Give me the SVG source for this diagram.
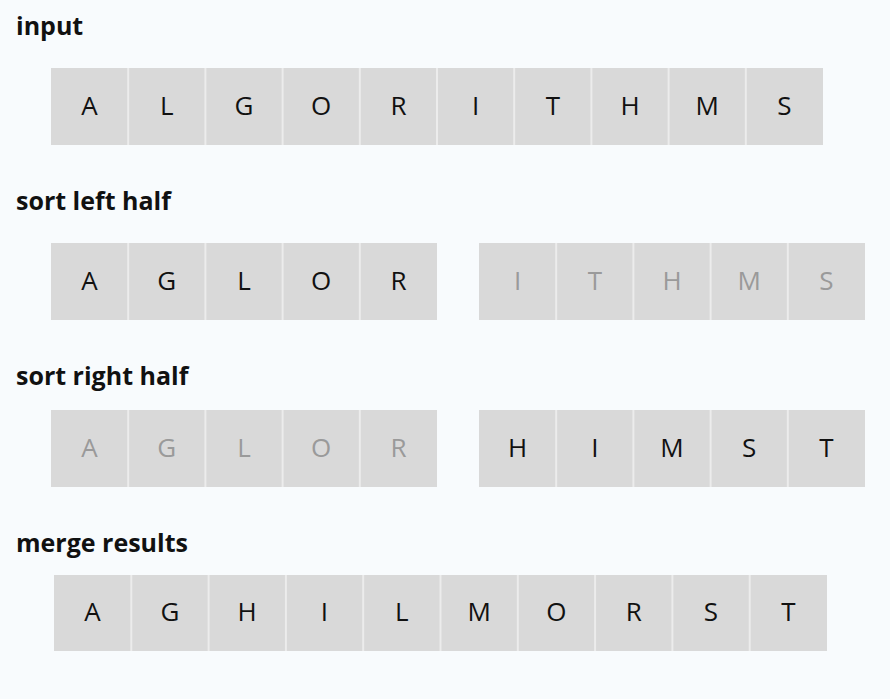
<svg xmlns="http://www.w3.org/2000/svg" width="890" height="699" viewBox="0 0 890 699">
<style>
.bg{fill:#f8fbfd}
.row{fill:#d9d9d9}
.sep{stroke:#ececec;stroke-width:2}
.t{font-family:"Open Sans","Liberation Sans",sans-serif;font-size:26px;text-anchor:middle;fill:#111}
.g{fill:#9a9a9a}
.h{font-family:"Open Sans","Liberation Sans",sans-serif;font-size:25px;font-weight:bold;fill:#111}
</style>
<rect class="bg" x="0" y="0" width="890" height="699"/>
<text class="h" x="16" y="35">input</text>
<text class="h" x="16" y="210">sort left half</text>
<text class="h" x="16" y="385">sort right half</text>
<text class="h" x="16" y="552">merge results</text>
<g id="row1">
<rect class="row" x="51" y="68" width="772" height="77"/>
<path class="sep" d="M128.2 68V145M205.4 68V145M282.6 68V145M359.8 68V145M437 68V145M514.2 68V145M591.4 68V145M668.6 68V145M745.8 68V145"/>
<text class="t" x="89.6" y="115">A</text>
<text class="t" x="166.8" y="115">L</text>
<text class="t" x="244" y="115">G</text>
<text class="t" x="321.2" y="115">O</text>
<text class="t" x="398.4" y="115">R</text>
<text class="t" x="475.6" y="115">I</text>
<text class="t" x="552.8" y="115">T</text>
<text class="t" x="630" y="115">H</text>
<text class="t" x="707.2" y="115">M</text>
<text class="t" x="784.4" y="115">S</text>
</g>
<g id="row2">
<rect class="row" x="51" y="243" width="386" height="77"/>
<rect class="row" x="479" y="243" width="386" height="77"/>
<path class="sep" d="M128.2 243V320M205.4 243V320M282.6 243V320M359.8 243V320M556.2 243V320M633.4 243V320M710.6 243V320M787.8 243V320"/>
<text class="t" x="89.6" y="290">A</text>
<text class="t" x="166.8" y="290">G</text>
<text class="t" x="244" y="290">L</text>
<text class="t" x="321.2" y="290">O</text>
<text class="t" x="398.4" y="290">R</text>
<text class="t g" x="517.6" y="290">I</text>
<text class="t g" x="594.8" y="290">T</text>
<text class="t g" x="672" y="290">H</text>
<text class="t g" x="749.2" y="290">M</text>
<text class="t g" x="826.4" y="290">S</text>
</g>
<g id="row3">
<rect class="row" x="51" y="410" width="386" height="77"/>
<rect class="row" x="479" y="410" width="386" height="77"/>
<path class="sep" d="M128.2 410V487M205.4 410V487M282.6 410V487M359.8 410V487M556.2 410V487M633.4 410V487M710.6 410V487M787.8 410V487"/>
<text class="t g" x="89.6" y="457">A</text>
<text class="t g" x="166.8" y="457">G</text>
<text class="t g" x="244" y="457">L</text>
<text class="t g" x="321.2" y="457">O</text>
<text class="t g" x="398.4" y="457">R</text>
<text class="t" x="517.6" y="457">H</text>
<text class="t" x="594.8" y="457">I</text>
<text class="t" x="672" y="457">M</text>
<text class="t" x="749.2" y="457">S</text>
<text class="t" x="826.4" y="457">T</text>
</g>
<g id="row4">
<rect class="row" x="54" y="575" width="773" height="76"/>
<path class="sep" d="M131.3 575V651M208.6 575V651M285.9 575V651M363.2 575V651M440.5 575V651M517.8 575V651M595.1 575V651M672.4 575V651M749.7 575V651"/>
<text class="t" x="92.6" y="621">A</text>
<text class="t" x="169.9" y="621">G</text>
<text class="t" x="247.2" y="621">H</text>
<text class="t" x="324.5" y="621">I</text>
<text class="t" x="401.8" y="621">L</text>
<text class="t" x="479.1" y="621">M</text>
<text class="t" x="556.4" y="621">O</text>
<text class="t" x="633.7" y="621">R</text>
<text class="t" x="711" y="621">S</text>
<text class="t" x="788.3" y="621">T</text>
</g>
</svg>
